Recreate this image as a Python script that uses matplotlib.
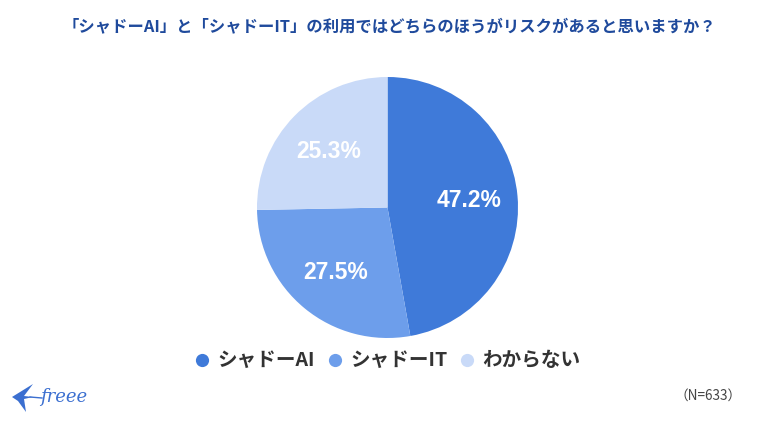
import matplotlib
matplotlib.use("Agg")
import matplotlib.pyplot as plt
from matplotlib.patches import Polygon
from matplotlib.lines import Line2D

plt.rcParams['font.family'] = ['Noto Sans CJK JP', 'DejaVu Sans']

labels = ['シャドーAI', 'シャドーIT', 'わからない']
values = [47.2, 27.5, 25.3]
colors = ['#3f7ad9', '#6d9eeb', '#c9daf8']
title = '「シャドーAI」と「シャドーIT」の利用ではどちらのほうがリスクがあると思いますか？'
brand = 'freee'

W, H = 758, 422
fig = plt.figure(figsize=(W/100, H/100), dpi=100, facecolor='white')

cx, cy, r = 387.5, 207.5, 130.5
ax = fig.add_axes([(cx-r)/W, 1-(cy+r)/H, 2*r/W, 2*r/H])
wedges, _ = ax.pie(values, colors=colors, startangle=90, counterclock=False, radius=1,
                   wedgeprops=dict(linewidth=0))
ax.set_xlim(-1, 1); ax.set_ylim(-1, 1)
ax.set_aspect('equal')
for (x, y), v in zip([(0.625, 0.055), (-0.40, -0.50), (-0.45, 0.43)], values):
    ax.text(x, y, f'{v}%', color='white', fontsize=16.5, fontweight='bold',
            family=['Liberation Sans'], ha='center', va='center')

fig.text(389.5/W, 1-26/H, title, color='#1f4a9c', fontsize=11.75, fontweight='bold',
         ha='center', va='center')

legend_x = [202, 335, 467]
text_x = [217, 350, 482]
for lx, tx, lab, col in zip(legend_x, text_x, labels, colors):
    fig.add_artist(Line2D([lx/W], [1-360/H], marker='o', markersize=9.5, color=col,
                          markeredgewidth=0, transform=fig.transFigure))
    fig.text(tx/W, 1-360/H, lab, color='#333333', fontsize=14.1, fontweight='bold',
             ha='left', va='center')

fig.text(708/W, 1-396/H, '（N=633）', color='#444444', fontsize=9.8, ha='center', va='center')

blue = '#3b6fd0'
pts = [(12, 397), (33, 384), (24, 396), (33, 397), (24, 399), (26, 412), (18, 401)]
fig.add_artist(Polygon([(x/W, 1-y/H) for x, y in pts], closed=True, facecolor=blue,
                       edgecolor='none', transform=fig.transFigure))
fig.add_artist(Line2D([30/W, 42/W], [1-397/H, 1-398/H], color=blue, lw=1,
                      transform=fig.transFigure))
fig.text(40/W, 1-397/H, brand, color=blue, fontsize=13, style='italic',
         family=['DejaVu Serif'], ha='left', va='center')

fig.savefig('out.png', dpi=100)
